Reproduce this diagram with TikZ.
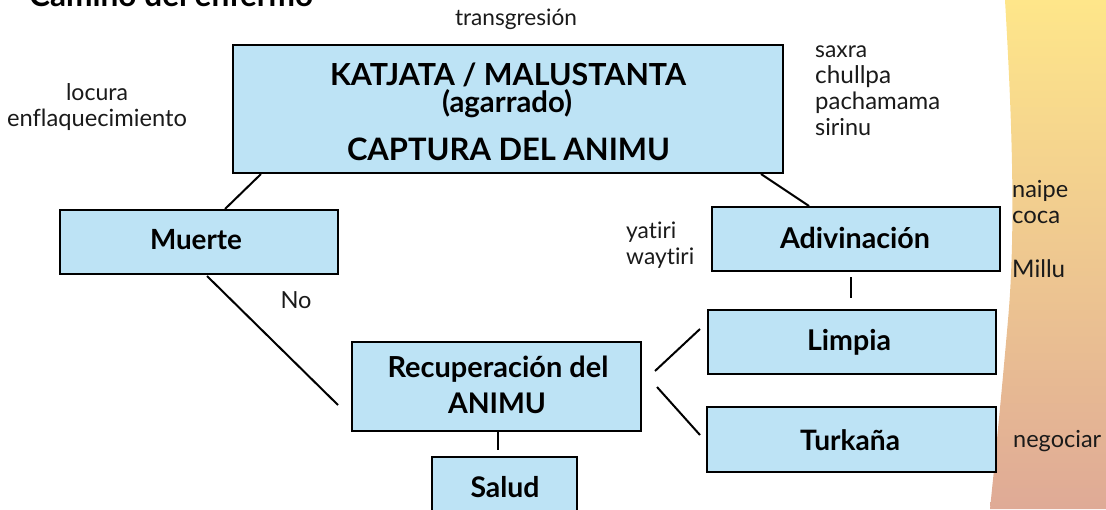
\documentclass[tikz,border=0pt]{standalone}
\usepackage{fontspec}
\setmainfont{Lato}[Ligatures=NoCommon]
\definecolor{boxblue}{HTML}{BDE3F5}
\definecolor{bandtop}{HTML}{FEE68A}
\definecolor{bandmid}{HTML}{F5C77E}
\definecolor{bandbot}{HTML}{DFAA96}
\definecolor{ink}{HTML}{1A1A1A}
\newcommand\fitw[2]{\setbox0\hbox{\fontsize{10pt}{12pt}\selectfont #2}\pgfmathsetmacro\fsz{10*#1/\the\wd0}\fontsize{\fsz pt}{\fsz pt}\selectfont #2}
\begin{document}
\begin{tikzpicture}[x=1pt,y=-1pt,
  box/.style={draw=black,fill=boxblue,line width=2pt,inner sep=0pt,rectangle},
  conn/.style={line width=2pt,draw=black},
  boldlbl/.style={inner sep=0pt,font=\bfseries,text=black},
  plainlbl/.style={inner sep=0pt,text=ink}]
\useasboundingbox (0,0) rectangle (1106,509);
\clip (0,0) rectangle (1106,509);
% coloured band
\shade[top color=bandtop, middle color=bandmid, bottom color=bandbot]
  (1005,0) .. controls (1012,120) and (1016,230) .. (1008,320)
  .. controls (1001,400) and (995,460) .. (990,509)
  -- (1106,509) -- (1106,0) -- cycle;
% boxes
\node[box,minimum width=550pt,minimum height=128pt] (top) at (508,109) {};
\node[box,minimum width=278pt,minimum height=64pt] (muerte) at (199,242) {};
\node[box,minimum width=288pt,minimum height=64pt] (adiv) at (856,239) {};
\node[box,minimum width=288pt,minimum height=64pt] (limpia) at (852,342) {};
\node[box,minimum width=289pt,minimum height=65pt] (turk) at (851.5,439.5) {};
\node[box,minimum width=289pt,minimum height=89pt] (recup) at (496.5,386.5) {};
\node[box,minimum width=145pt,minimum height=58pt] (salud) at (504.5,486) {};
% connectors
\draw[conn] ([xshift=29pt]top.south west) -- ([xshift=166pt]muerte.north west);
\draw[conn] ([xshift=-23pt]top.south east) -- ([xshift=98pt]adiv.north west);
\draw[conn] ([xshift=-5pt,yshift=-5pt]adiv.south) -- ([xshift=-1pt,yshift=11pt]limpia.north);
\draw[conn] ([xshift=148pt,yshift=-1pt]muerte.south west) -- ([xshift=-13pt,yshift=-18.5pt]recup.west);
\draw[conn] ([xshift=13pt,yshift=15.5pt]recup.east) -- ([xshift=-7pt,yshift=13pt]limpia.west);
\draw[conn] ([xshift=15pt,yshift=-0.5pt]recup.east) -- ([xshift=-6pt,yshift=4.5pt]turk.west);
\draw[conn] ([xshift=1.5pt]recup.south) -- ([xshift=-6.5pt,yshift=6pt]salud.north);
% box texts
\node[boldlbl,anchor=base] (ttop1) at (508,85) {\fitw{356}{KATJATA / MALUSTANTA}};
\node[boldlbl,anchor=base] (ttop2) at (507,112) {\fitw{130}{(agarrado)}};
\node[boldlbl,anchor=base] (ttop3) at (508.5,160) {\fitw{323}{CAPTURA DEL ANIMU}};
\node[boldlbl,anchor=base] (tmuerte) at (196,249) {\fitw{92}{Muerte}};
\node[boldlbl,anchor=base] (tadiv) at (855,248) {\fitw{150}{Adivinación}};
\node[boldlbl,anchor=base] (tlimpia) at (849,350) {\fitw{84}{Limpia}};
\node[boldlbl,anchor=base] (tturk) at (850,450) {\fitw{100}{Turkaña}};
\node[boldlbl,anchor=base] (trec1) at (498,377) {\fitw{221}{Recuperación del}};
\node[boldlbl,anchor=base] (trec2) at (497,413) {\fitw{98}{ANIMU}};
\node[boldlbl,anchor=base] (tsalud) at (505,497) {\fitw{69}{Salud}};
% title
\node[boldlbl,anchor=base west] (title) at (29,6) {\fitw{284}{Camino del enfermo}};
% side texts
\node[plainlbl,anchor=base] (transg) at (516,25) {\fitw{122}{transgresión}};
\node[plainlbl,anchor=base] (locura) at (97,100) {\fitw{62}{locura}};
\node[plainlbl,anchor=base] (enfl) at (97,126) {\fitw{180}{enflaquecimiento}};
\node[plainlbl,anchor=base west] (saxra) at (815,57) {\fitw{52}{saxra}};
\node[plainlbl,anchor=base west] (chullpa) at (815,83) {\fitw{76}{chullpa}};
\node[plainlbl,anchor=base west] (pacha) at (815,109) {\fitw{125}{pachamama}};
\node[plainlbl,anchor=base west] (sirinu) at (815,135) {\fitw{56}{sirinu}};
\node[plainlbl,anchor=base west] (naipe) at (1012,197) {\fitw{56}{naipe}};
\node[plainlbl,anchor=base west] (coca) at (1012,223) {\fitw{48}{coca}};
\node[plainlbl,anchor=base west] (millu) at (1012,277) {\fitw{53}{Millu}};
\node[plainlbl,anchor=base west] (negoc) at (1013,447) {\fitw{88}{negociar}};
\node[plainlbl,anchor=base west] (yatiri) at (626,238) {\fitw{50}{yatiri}};
\node[plainlbl,anchor=base west] (waytiri) at (626,264) {\fitw{68}{waytiri}};
\node[plainlbl,anchor=base] (no) at (296,308) {\fitw{31}{No}};
\end{tikzpicture}
\end{document}
